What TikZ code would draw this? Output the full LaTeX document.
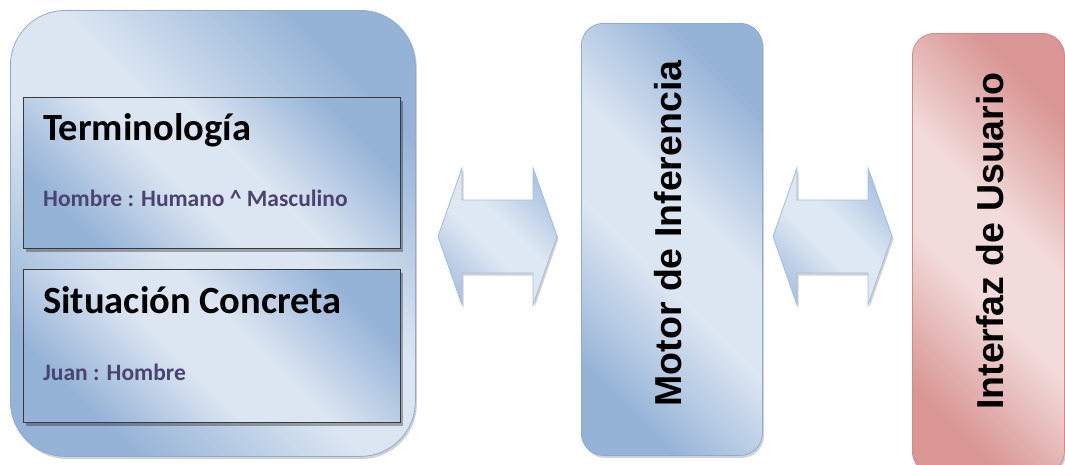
\documentclass[tikz,border=0pt]{standalone}
\usepackage{fontspec}
\setmainfont{Carlito}
\newfontfamily\arialfont{Liberation Sans}
\usetikzlibrary{shadows}
\definecolor{bdark}{HTML}{95B3D7}
\definecolor{blight}{HTML}{DCE6F2}
\definecolor{bedge}{HTML}{8FAAD2}
\definecolor{adark}{HTML}{AFC6E3}
\definecolor{alight}{HTML}{DEE8F3}
\definecolor{aedge}{HTML}{A4BCDC}
\definecolor{rdark}{HTML}{D99694}
\definecolor{rlight}{HTML}{F2DCDB}
\definecolor{redge}{HTML}{D08987}
\definecolor{subtxt}{HTML}{4B4470}
\definecolor{boxline}{HTML}{3A3A3A}
\pgfdeclareverticalshading{bgloss}{100bp}{color(0bp)=(bdark); color(25bp)=(bdark); color(44bp)=(blight); color(56bp)=(blight); color(75bp)=(bdark); color(100bp)=(bdark)}
\pgfdeclareverticalshading{rgloss}{100bp}{color(0bp)=(rdark); color(25bp)=(rdark); color(44bp)=(rlight); color(56bp)=(rlight); color(75bp)=(rdark); color(100bp)=(rdark)}
\pgfdeclareverticalshading{agloss}{100bp}{color(0bp)=(adark); color(25bp)=(adark); color(44bp)=(alight); color(56bp)=(alight); color(75bp)=(adark); color(100bp)=(adark)}
\newcommand{\fatarrow}[3]{%
  \path[fatarr] (#1,-236.5) -- (#1+24,-168) -- (#1+24,-200) -- (#2-24,-200)
    -- (#2-24,-168) -- (#2,-236.5) -- (#2-24,-305) -- (#2-24,-273)
    -- (#1+24,-273) -- (#1+24,-305) -- cycle;
  \coordinate (#3) at ({(#1+#2)/2},-236.5);}
\begin{document}
\begin{tikzpicture}[x=1pt,y=1pt,
  bluegrad/.style={shading=bgloss, shading angle=-45},
  redgrad/.style={shading=rgloss, shading angle=-45},
  softshadow/.style={drop shadow={shadow xshift=1.5pt, shadow yshift=-2.5pt, opacity=0.25, fill=black!70}},
  bigbox/.style={rectangle, draw=bedge, line width=0.8pt, bluegrad, rounded corners=55pt, softshadow, inner sep=0pt},
  innerbox/.style={rectangle, draw=boxline, line width=1.3pt, bluegrad, drop shadow={shadow xshift=2pt, shadow yshift=-3pt, opacity=0.3, fill=black}, inner sep=0pt},
  motorbox/.style={rectangle, draw=bedge, line width=0.8pt, bluegrad, rounded corners=22pt, softshadow, inner sep=0pt},
  uibox/.style={rectangle, draw=redge, line width=0.8pt, redgrad, rounded corners=22pt, softshadow, inner sep=0pt},
  fatarr/.style={draw=aedge, line width=0.8pt, shading=agloss, shading angle=-45, softshadow},
  titletxt/.style={font=\fontsize{38.5}{42}\selectfont\bfseries, text=black, inner sep=0pt},
  subtxtstyle/.style={font=\fontsize{23.5}{26}\selectfont\bfseries, text=subtxt, inner sep=0pt},
  rottxt/.style={font=\arialfont\fontsize{37.5}{40}\selectfont\bfseries, text=black, inner sep=0pt, rotate=90}]
\useasboundingbox (0,0) rectangle (1065,-464);
% knowledge base
\node[bigbox, minimum width=405pt, minimum height=446pt, anchor=north west] (kb) at (10,-10) {};
\node[innerbox, minimum width=377pt, minimum height=151pt, anchor=north west] (term) at (23,-97) {};
\node[innerbox, minimum width=377pt, minimum height=153pt, anchor=north west] (sit) at (23,-269) {};
\node[titletxt, anchor=base west] (termt) at (43,-140) {Terminología};
\node[subtxtstyle, anchor=base west] (terms) at (43,-206) {Hombre : Humano \^{} Masculino};
\node[titletxt, anchor=base west] (sitt) at (43,-313) {Situación Concreta};
\node[subtxtstyle, anchor=base west] (sits) at (43,-380) {Juan : Hombre};
% inference engine
\node[motorbox, minimum width=181pt, minimum height=432pt, anchor=north west] (motor) at (581,-23) {};
\node[rottxt] (motort) at (668,-233.5) {Motor de Inferencia};
% user interface
\node[uibox, minimum width=152pt, minimum height=440pt, anchor=north west] (ui) at (912,-33) {};
\node[rottxt] (uit) at (990,-241) {Interfaz de Usuario};
% double arrows
\fatarrow{438}{557}{a1}
\fatarrow{773}{892}{a2}
\end{tikzpicture}
\end{document}
